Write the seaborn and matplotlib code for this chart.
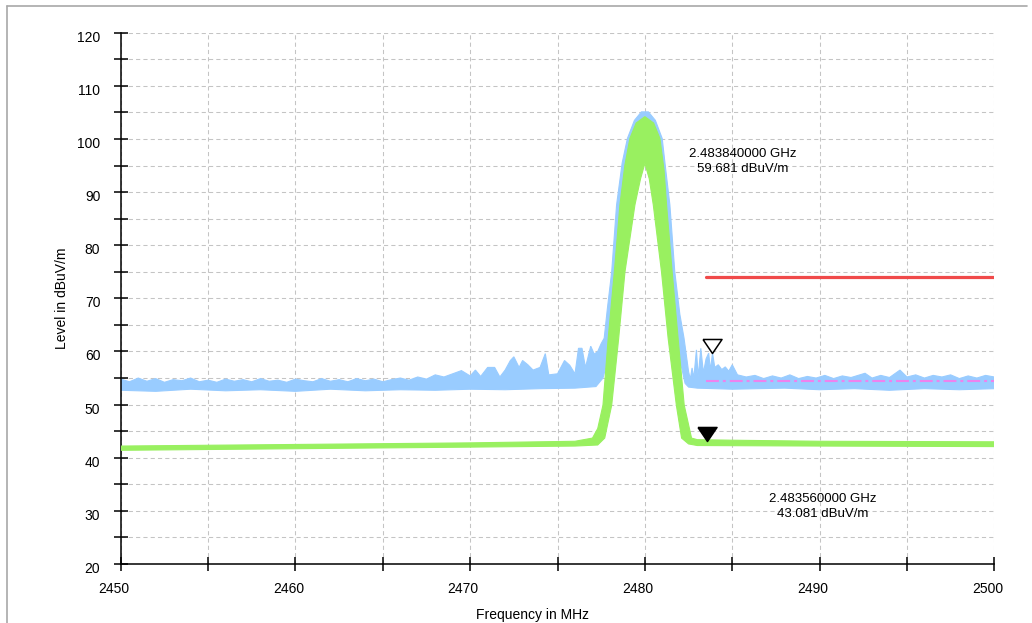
import numpy as np
import pandas as pd
import seaborn as sns
import matplotlib
matplotlib.use("Agg")
import matplotlib.pyplot as plt
from matplotlib.ticker import MultipleLocator
from matplotlib.transforms import ScaledTranslation, offset_copy
from matplotlib.lines import Line2D

# ---------------- data ----------------
# Blue trace (peak detector) - upper envelope
blue_hi_freq = [2450.0, 2450.5, 2451.0, 2451.5, 2452.0, 2452.5, 2453.0, 2453.5, 2454.0, 2454.5,
                2455.0, 2455.5, 2456.0, 2456.5, 2457.0, 2457.5, 2458.0, 2458.5, 2459.0, 2459.5,
                2460.0, 2460.5, 2461.0, 2461.5, 2462.0, 2462.5, 2463.0, 2463.5, 2464.0, 2464.5,
                2465.0, 2465.5, 2466.0, 2466.5, 2467.0, 2467.5, 2468.0, 2468.5, 2469.0, 2469.5,
                2470.0, 2470.3, 2470.6, 2471.0, 2471.4, 2471.7, 2472.0, 2472.3, 2472.5, 2472.8,
                2473.0, 2473.3, 2473.6, 2474.0, 2474.3, 2474.5, 2475.0, 2475.4, 2475.7, 2476.0,
                2476.2, 2476.4, 2476.6, 2476.9, 2477.1, 2477.3, 2477.5,
                2477.67, 2477.85, 2478.1, 2478.38, 2478.7, 2479.0, 2479.4, 2479.8, 2480.2,
                2480.6, 2480.99, 2481.2, 2481.43, 2481.71, 2482.0, 2482.24, 2482.5,
                2482.6, 2482.7, 2482.8, 2482.95, 2483.05, 2483.2, 2483.35, 2483.5, 2483.65,
                2483.75, 2483.87, 2484.0, 2484.2, 2484.4, 2484.6, 2484.8, 2485.0, 2485.3,
                2485.8, 2486.3, 2486.8, 2487.3, 2487.8, 2488.3, 2488.8, 2489.3, 2489.8,
                2490.3, 2490.8, 2491.3, 2491.8, 2492.3, 2492.6, 2493.0, 2493.5, 2494.0,
                2494.6, 2495.0, 2495.5, 2496.0, 2496.5, 2497.0, 2497.5, 2498.0, 2498.5,
                2499.0, 2499.5, 2500.0]
blue_hi_level = [54.8, 54.3, 55.0, 54.4, 54.9, 54.2, 54.7, 54.5, 55.0, 54.3,
                 54.6, 54.2, 54.8, 54.4, 54.7, 54.3, 54.9, 54.4, 54.6, 54.2,
                 54.8, 54.5, 54.3, 54.9, 54.4, 54.7, 54.3, 54.9, 54.5, 54.8,
                 54.3, 54.7, 55.0, 54.6, 55.2, 54.8, 55.6, 55.2, 55.8, 56.4,
                 55.4, 56.5, 55.3, 57.0, 57.0, 55.2, 56.5, 58.3, 59.0, 57.0,
                 58.3, 57.5, 56.5, 57.0, 59.6, 55.6, 55.8, 58.3, 57.4, 55.8,
                 60.6, 60.6, 57.0, 61.0, 59.5, 60.0, 61.5,
                 62.5, 68.0, 75.0, 87.6, 95.5, 100.1, 103.5, 105.1, 105.1,
                 103.5, 100.1, 94.0, 87.6, 75.0, 67.0, 62.5, 56.2,
                 54.8, 56.9, 55.0, 60.3, 55.2, 60.6, 56.0, 58.6, 59.7,
                 56.5, 59.7, 57.0, 57.5, 56.6, 57.1, 56.3, 57.5, 55.6,
                 55.2, 55.5, 54.9, 55.4, 55.0, 55.6, 54.9, 55.3, 55.0,
                 55.5, 54.9, 55.4, 55.1, 55.6, 55.9, 55.0, 55.5, 55.1,
                 56.5, 55.2, 55.6, 55.0, 55.5, 55.2, 55.6, 54.9, 55.4,
                 55.0, 55.5, 55.2]
# Blue trace - lower envelope
blue_lo_freq = [2450.0, 2452.0, 2454.0, 2456.0, 2458.0, 2460.0, 2462.0, 2464.0, 2466.0,
                2468.0, 2470.0, 2472.0, 2474.0, 2476.0, 2477.2, 2477.6, 2478.0, 2478.5,
                2478.9, 2479.4, 2480.0, 2480.6, 2481.1, 2481.5, 2481.9, 2482.3, 2482.5,
                2483.0, 2485.0, 2488.0, 2490.0, 2492.0, 2494.0, 2496.0, 2498.0, 2500.0]
blue_lo_level = [52.7, 52.5, 52.9, 52.6, 52.8, 52.5, 52.9, 52.6, 52.8,
                 52.7, 52.9, 52.8, 53.0, 53.1, 53.4, 55.0, 60.0, 70.0,
                 80.0, 90.0, 97.0, 90.0, 80.0, 70.0, 60.0, 54.0, 53.3,
                 53.1, 52.9, 53.1, 52.8, 53.0, 52.7, 53.0, 52.8, 53.0]

# Green trace (average detector) - upper envelope
green_hi_freq = [2450.0, 2460.0, 2470.0, 2476.0, 2477.0, 2477.3, 2477.6, 2477.9, 2478.25,
                 2478.57, 2478.85, 2479.14, 2479.5, 2480.0, 2480.5, 2480.86, 2481.1, 2481.24,
                 2481.56, 2481.9, 2482.25, 2482.67, 2483.0, 2485.0, 2490.0, 2500.0]
green_hi_level = [42.2, 42.5, 42.8, 43.1, 43.7, 45.5, 49.9, 62.5, 75.0,
                  87.6, 95.0, 100.1, 103.0, 104.2, 103.0, 100.1, 94.0, 87.6,
                  75.0, 62.5, 49.9, 43.7, 43.4, 43.3, 43.1, 43.0]
# Green trace - lower envelope
green_lo_freq = [2450.0, 2460.0, 2470.0, 2476.0, 2477.3, 2477.7, 2478.1, 2478.5, 2478.86,
                 2479.43, 2479.75, 2480.0, 2480.25, 2480.48, 2480.95, 2481.33, 2481.8,
                 2482.1, 2482.5, 2483.0, 2490.0, 2500.0]
green_lo_level = [41.4, 41.7, 42.0, 42.2, 42.4, 43.7, 49.9, 62.5, 75.0,
                  87.6, 92.5, 95.4, 92.5, 87.6, 75.0, 62.5, 49.9,
                  43.7, 42.6, 42.3, 42.2, 42.1]

# Limit line and its discriminator line
limit_freq = [2483.5, 2500.0]
limit_level = [74.0, 74.0]
disc_freq = [2483.5, 2500.0]
disc_level = [54.4, 54.4]

# Markers
marker_freq = [2483.84, 2483.56]      # MHz
marker_level = [59.681, 43.081]       # dBuV/m
marker_filled = [False, True]
marker_text_pos = [(2485.6, 95.8), (2490.2, 30.9)]

x_ticks_major = [2450, 2460, 2470, 2480, 2490, 2500]
y_ticks_major = [20, 30, 40, 50, 60, 70, 80, 90, 100, 110, 120]

# ---------------- style ----------------
BLUE = "#99ccff"
GREEN = "#99f060"
RED = "#f04a4a"
MAGENTA = "#ee82ee"

sns.set_style("white")
plt.rcParams["font.family"] = ["Liberation Sans", "DejaVu Sans"]

fig = plt.figure(figsize=(10.32, 6.23), dpi=100)
ax = fig.add_axes([0.117, 0.0947, 0.8465, 0.8528])

# traces as envelopes
ax.fill(np.r_[blue_hi_freq, blue_lo_freq[::-1]], np.r_[blue_hi_level, blue_lo_level[::-1]],
        facecolor=BLUE, edgecolor=BLUE, lw=0.8, zorder=2)
ax.fill(np.r_[green_hi_freq, green_lo_freq[::-1]], np.r_[green_hi_level, green_lo_level[::-1]],
        facecolor=GREEN, edgecolor=GREEN, lw=0.8, zorder=3)

lim_df = pd.DataFrame({"f": limit_freq, "v": limit_level})
disc_df = pd.DataFrame({"f": disc_freq, "v": disc_level})
sns.lineplot(data=lim_df, x="f", y="v", ax=ax, color=RED, lw=2.3, zorder=4)
sns.lineplot(data=disc_df, x="f", y="v", ax=ax, color=MAGENTA, lw=1.5, zorder=4,
             dashes=False)
ax.lines[-1].set_dashes((6.2, 1.9, 1.4, 1.9))

# markers (tip of the triangle at the marker point)
tri = [(-9.5, 7.0), (9.5, 7.0), (0.0, -7.0), (-9.5, 7.0)]
tip_tr = offset_copy(ax.transData, fig=fig, y=5.0, units="points")
for f, v, filled, (tx, ty) in zip(marker_freq, marker_level, marker_filled, marker_text_pos):
    ax.plot([f], [v], marker=tri, ms=13.7, mec="black", mew=1.1,
            mfc="black" if filled else "white", ls="none", transform=tip_tr, zorder=6,
            clip_on=False)
    ax.text(tx, ty, f"{f / 1000:.9f} GHz\n{v:.3f} dBuV/m", ha="center", va="center",
            multialignment="center", fontsize=9.5, linespacing=1.35, color="black", zorder=7)

# axes
ax.set_xlim(2450, 2500)
ax.set_ylim(20, 120)
ax.xaxis.set_major_locator(MultipleLocator(10))
ax.xaxis.set_minor_locator(MultipleLocator(5))
ax.yaxis.set_major_locator(MultipleLocator(10))
ax.yaxis.set_minor_locator(MultipleLocator(5))
ax.set_xticks(x_ticks_major)
ax.set_yticks(y_ticks_major)
ax.grid(which="both", color="#c4c4c4", lw=0.75, ls=(0, (4, 3)), zorder=0)
ax.set_axisbelow(True)
ax.tick_params(which="both", direction="inout", length=9.4, width=1.1, color="black",
               bottom=True, left=True, top=False, right=False)
ax.tick_params(axis="x", which="major", pad=8, labelsize=10, labelcolor="black")
ax.tick_params(axis="y", which="major", pad=10, labelsize=10, labelcolor="black")
for s in ["top", "right"]:
    ax.spines[s].set_visible(False)
for s in ["left", "bottom"]:
    ax.spines[s].set_color("black")
    ax.spines[s].set_linewidth(1.1)

ax.set_xlabel("Frequency in MHz", fontsize=10, color="black")
ax.set_ylabel("Level in dBuV/m", fontsize=10, color="black")
ax.xaxis.set_label_coords(0.4708, -0.082)
ax.yaxis.set_label_coords(-0.059, 0.5)

for lab in ax.get_xticklabels():
    lab.set_transform(lab.get_transform() + ScaledTranslation(-0.07, 0, fig.dpi_scale_trans))
for lab in ax.get_yticklabels():
    lab.set_transform(lab.get_transform() + ScaledTranslation(0, -0.035, fig.dpi_scale_trans))

# figure frame (left and top)
W, H = 1032.0, 623.0
fig.add_artist(Line2D([7 / W, 7 / W], [0, 1 - 6 / H], transform=fig.transFigure,
                      color="#a8a8a8", lw=1.2))
fig.add_artist(Line2D([7 / W, 1027 / W], [1 - 6 / H, 1 - 6 / H], transform=fig.transFigure,
                      color="#a8a8a8", lw=1.2))

fig.savefig("out.png", dpi=100)
